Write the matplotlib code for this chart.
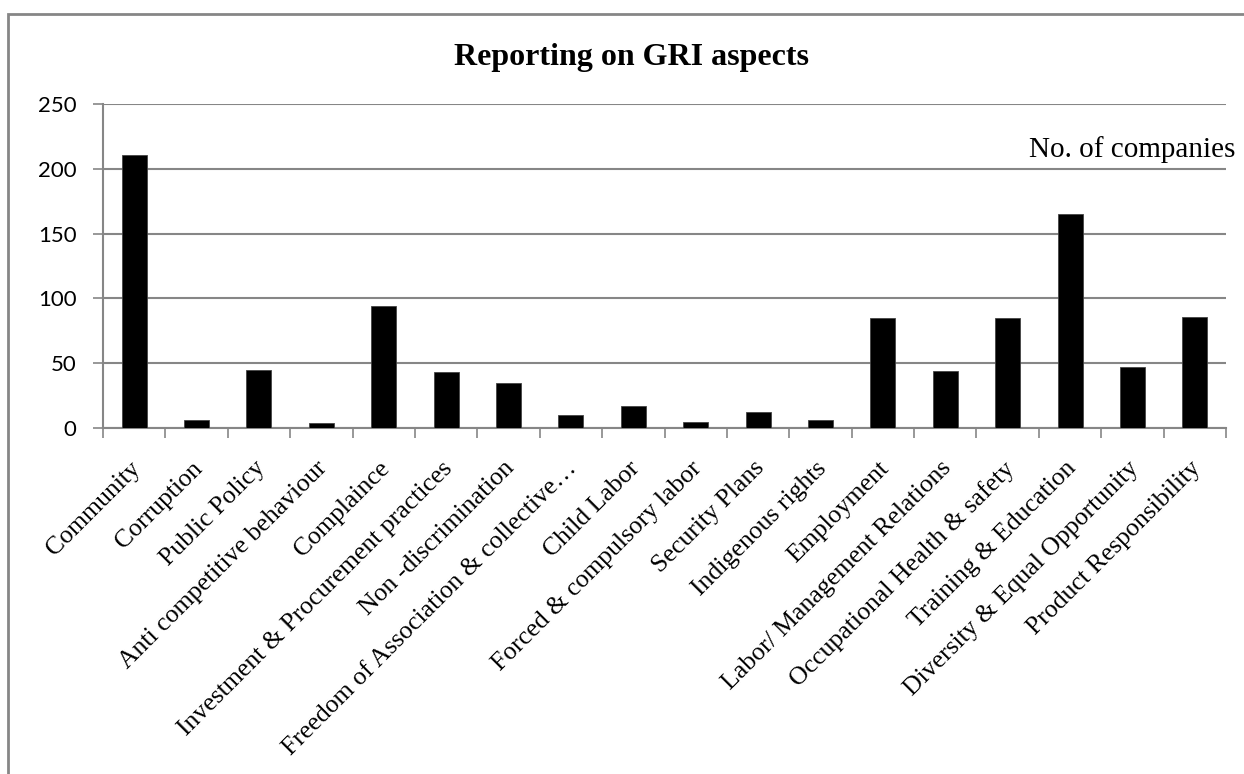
import numpy as np
import matplotlib
matplotlib.use('Agg')
import matplotlib.pyplot as plt
import matplotlib.transforms as mtransforms
from matplotlib.patches import Rectangle

aspects = ['Community', 'Corruption', 'Public Policy', 'Anti competitive behaviour',
           'Complaince', 'Investment & Procurement practices', 'Non -discrimination',
           'Freedom of Association & collective\u2026', 'Child Labor',
           'Forced & compulsory labor', 'Security Plans', 'Indigenous rights',
           'Employment', 'Labor/ Management Relations', 'Occupational Health & safety',
           'Training & Education', 'Diversity & Equal Opportunity', 'Product Responsibility']
companies = [211, 6, 45, 4, 94, 43, 35, 10, 17, 5, 12, 6, 85, 44, 85, 165, 47, 86]
y_ticks = [0, 50, 100, 150, 200, 250]

grid_col = '#868686'
serif = ['Liberation Serif', 'DejaVu Serif']

fig = plt.figure(figsize=(12.44, 7.74), dpi=100)
fig.patch.set_facecolor('white')

# outer chart frame (only left and top visible in the crop)
fig.add_artist(Rectangle((8 / 1244, -0.1), 1.2, (774 - 14) / 774 + 0.1, transform=fig.transFigure,
                         fill=False, edgecolor=grid_col, linewidth=2))

ax = fig.add_axes([103 / 1244, (774 - 428) / 774, (1226 - 103) / 1244, (428 - 104) / 774])
x = np.arange(len(aspects))
ax.bar(x, companies, width=0.4, color='black', edgecolor='#444444', linewidth=0.6, zorder=3)

ax.set_xlim(-0.5, len(aspects) - 0.5)
ax.set_ylim(0, 250)
ax.set_yticks(y_ticks)
ax.set_yticklabels([str(v) for v in y_ticks], fontfamily='Lato', fontsize=16)
ax.yaxis.grid(True, color=grid_col, linewidth=1.5, zorder=0)
ax.tick_params(axis='y', length=7, width=1.2, color=grid_col, pad=12)

ax.set_xticks(x)
ax.set_xticklabels(aspects, rotation=45, ha='right', rotation_mode='anchor',
                   fontfamily=serif, fontsize=18.5)
ax.tick_params(axis='x', which='major', length=0, pad=21)
ax.set_xticks(np.arange(-0.5, len(aspects), 1), minor=True)
ax.tick_params(axis='x', which='minor', length=7, width=1.2, color=grid_col)
shift = mtransforms.ScaledTranslation(-5 / 100, 0, fig.dpi_scale_trans)
for lbl in ax.get_xticklabels():
    lbl.set_transform(lbl.get_transform() + shift)

for side in ['top', 'right']:
    ax.spines[side].set_visible(False)
for side in ['left', 'bottom']:
    ax.spines[side].set_color(grid_col)
    ax.spines[side].set_linewidth(1.5)

fig.text(632 / 1244, 1 - 58 / 774, 'Reporting on GRI aspects', ha='center', va='center',
         fontfamily=serif, fontsize=23, fontweight='bold')
ax.text(1235 / 1244, 1 - 150 / 774, 'No. of companies', transform=fig.transFigure,
        ha='right', va='center', fontfamily=serif, fontsize=21)

fig.savefig('out.png', dpi=100)
